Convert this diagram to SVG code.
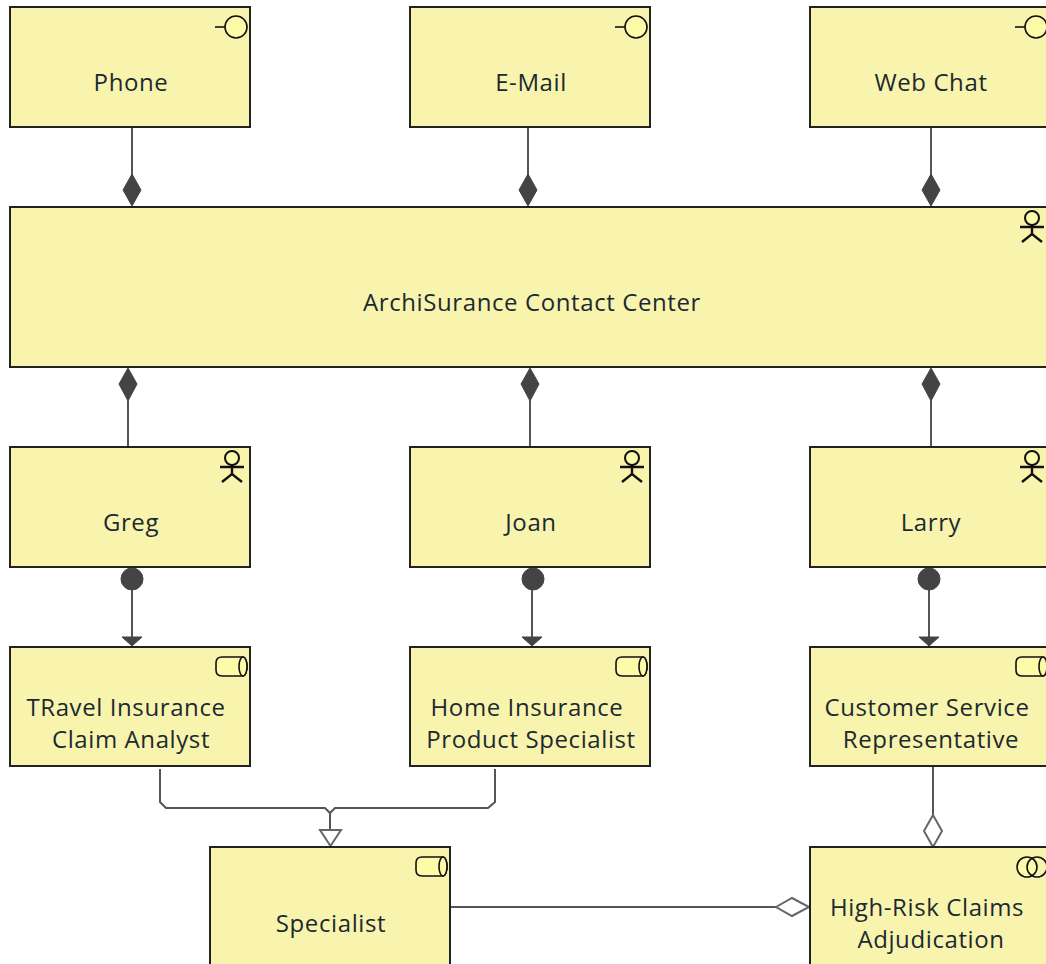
<svg xmlns="http://www.w3.org/2000/svg" width="1046" height="964" viewBox="0 0 1046 964">
<style>
.box{fill:#f8f4ae;stroke:#222;stroke-width:2}
.t{font-family:"Open Sans","Liberation Sans",sans-serif;font-size:24px;letter-spacing:.6px;fill:#1c2a30;text-anchor:middle}
.i{fill:#fdfaa8;stroke:#111;stroke-width:1.6}
.a{fill:none;stroke:#111;stroke-width:2.4}
.c{fill:none;stroke:#555;stroke-width:2}
.fd{fill:#444;stroke:#444;stroke-width:1}
.od{fill:#fff;stroke:#666;stroke-width:2}
</style>
<defs>
<g id="iface"><path class="a" style="stroke-width:1.6" d="M-35 27H-25"/><circle class="i" cx="-14" cy="27" r="11"/></g>
<g id="actor"><circle class="i" cx="-18" cy="11" r="7" style="stroke-width:2"/><path class="a" d="M-18 18V27M-30 20H-6M-28 35L-18 27L-8 35"/></g>
<g id="role"><path class="i" d="M-28 10H-7A4 9.500 0 0 1 -7 29H-28Q-34 29 -34 23V16Q-34 10 -28 10Z"/><ellipse class="i" cx="-7" cy="19.500" rx="4" ry="9.500"/></g>
<g id="collab"><circle class="i" cx="-23" cy="20" r="10"/><circle class="i" cx="-13" cy="20" r="10" style="fill:none"/></g>
</defs>
<g id="connectors">
<path class="c" d="M132 127V178M528 127V178M931 127V178M128 400V447M530 400V447M931 400V447M132 590V638M532 590V638M929 590V638"/>
<path class="fd" d="M132 174L123 190L132 206L141 190ZM528 174L519 190L528 206L537 190ZM931 174L922 190L931 206L940 190Z"/>
<path class="fd" d="M128 368L119 384L128 401L137 384ZM530 368L521 384L530 401L539 384ZM931 368L922 384L931 401L940 384Z"/>
<circle class="fd" cx="132" cy="579" r="11"/><circle class="fd" cx="533" cy="579" r="11"/><circle class="fd" cx="929" cy="579" r="11"/>
<path class="fd" d="M122 637H142L132 646ZM522 637H542L532 646ZM919 637H939L929 646Z"/>
<path class="c" d="M160 769V802L166 808H325L330 813L335 808H488L495 802V769M330 813V830"/>
<path d="M320 830H341L330.500 846Z" class="od"/>
<path class="c" d="M933 767V815M451 907H776"/>
<path class="od" d="M933 815L924 831L933 847L942 831ZM776 907L792 898L809 907L792 916Z"/>
</g>
<g id="phone"><rect class="box" x="10" y="7" width="240" height="120"/><use href="#iface" x="250" y="0"/><text class="t" x="131" y="91">Phone</text></g>
<g id="email"><rect class="box" x="410" y="7" width="240" height="120"/><use href="#iface" x="650" y="0"/><text class="t" x="531" y="91">E-Mail</text></g>
<g id="webchat"><rect class="box" x="810" y="7" width="240" height="120"/><use href="#iface" x="1050" y="0"/><text class="t" x="931" y="91">Web Chat</text></g>
<g id="center"><rect class="box" x="10" y="207" width="1040" height="160"/><use href="#actor" x="1050" y="207"/><text class="t" x="532" y="311">ArchiSurance Contact Center</text></g>
<g id="greg"><rect class="box" x="10" y="447" width="240" height="120"/><use href="#actor" x="250" y="447"/><text class="t" x="131" y="531">Greg</text></g>
<g id="joan"><rect class="box" x="410" y="447" width="240" height="120"/><use href="#actor" x="650" y="447"/><text class="t" x="531" y="531">Joan</text></g>
<g id="larry"><rect class="box" x="810" y="447" width="240" height="120"/><use href="#actor" x="1050" y="447"/><text class="t" x="931" y="531">Larry</text></g>
<g id="travel"><rect class="box" x="10" y="647" width="240" height="119"/><use href="#role" x="250" y="647"/><text class="t" x="126" y="716">TRavel Insurance</text><text class="t" x="131" y="748">Claim Analyst</text></g>
<g id="home"><rect class="box" x="410" y="647" width="240" height="119"/><use href="#role" x="650" y="647"/><text class="t" x="527" y="716">Home Insurance</text><text class="t" x="531" y="748">Product Specialist</text></g>
<g id="csr"><rect class="box" x="810" y="647" width="240" height="119"/><use href="#role" x="1050" y="647"/><text class="t" x="927" y="716">Customer Service</text><text class="t" x="931" y="748">Representative</text></g>
<g id="specialist"><rect class="box" x="210" y="847" width="240" height="130"/><use href="#role" x="450" y="847"/><text class="t" x="331" y="932">Specialist</text></g>
<g id="adjudication"><rect class="box" x="810" y="847" width="240" height="130"/><use href="#collab" x="1050" y="847"/><text class="t" x="927" y="916">High-Risk Claims</text><text class="t" x="931" y="948">Adjudication</text></g>
</svg>
